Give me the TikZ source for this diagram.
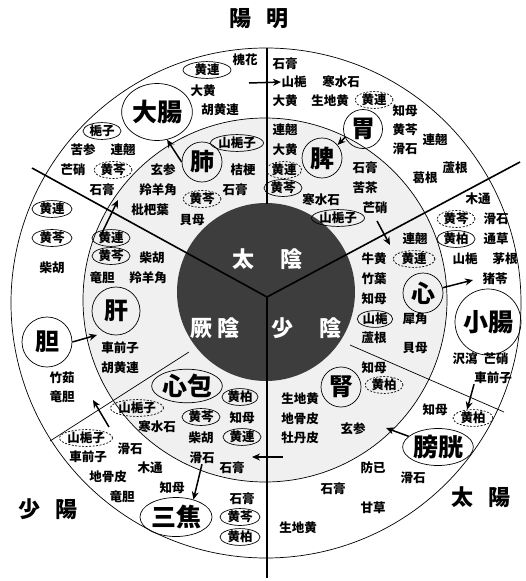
\documentclass[tikz,border=0pt]{standalone}
\usepackage{fontspec}
\newfontfamily\jp{Noto Sans CJK JP}
\usetikzlibrary{arrows.meta,shapes.geometric}
\begin{document}
\begin{tikzpicture}[x=1pt,y=-1pt,
 herb/.style={font=\jp\bfseries\fontsize{12.5}{13}\selectfont,inner sep=0pt},
 ov/.style={herb,draw,ellipse,line width=0.7pt,minimum width=38pt,minimum height=16pt},
 dov/.style={ov,dash pattern=on 2pt off 1.5pt},
 three/.style={minimum width=48pt},
 organ/.style={font=\jp\bfseries\fontsize{24}{24}\selectfont,draw,circle,inner sep=0pt,line width=0.7pt},
 organe/.style={font=\jp\bfseries\fontsize{25}{25}\selectfont,draw,ellipse,inner sep=0pt,line width=0.7pt},
 biglabel/.style={font=\jp\bfseries\fontsize{22}{22}\selectfont,inner sep=0pt},
 yin/.style={font=\jp\bfseries\fontsize{22}{22}\selectfont,inner sep=0pt,text=white},
 arr/.style={-{Stealth[length=8pt,width=7pt]},line width=1.5pt},
 radline/.style={line width=1.6pt},
 sepline/.style={line width=0.7pt}
]
\useasboundingbox (0,0) rectangle (525,581);
\fill[white] (0,0) rectangle (525,581);
% rings
\draw[sepline] (266,303) circle (255);
\draw[sepline,fill=black!6] (265,300) circle (182);
\fill[black!76] (266,292) circle (89);
% dividing lines
\coordinate (J) at (267,297);
\coordinate (ul) at (32,168);
\coordinate (ur) at (520,162);
\coordinate (bot) at (267,578);
\coordinate (top) at (267,48);
\coordinate (topd) at (267,204);
\coordinate (lls) at (189,352);
\coordinate (lle) at (50,441);
\coordinate (lrs) at (350,345);
\coordinate (lre) at (504,412);
\draw[radline] (ul) -- (J) -- (ur);
\draw[radline] (J) -- (bot);
\draw[line width=1.2pt] (top) -- (topd);
\draw[sepline] (lls) -- (lle);
\draw[sepline] (lrs) -- (lre);
% big labels
\node[biglabel] (yangming) at (259,19) {陽\hspace{15pt}明};
\node[biglabel] (shaoyang) at (48.5,509) {少\hspace{15pt}陽};
\node[biglabel] (taiyang) at (481,497) {太\hspace{15pt}陽};
% yin labels
\node[yin] (taiyin) at (267.5,259) {太\hspace{27pt}陰};
\node[yin] (jueyin) at (215,328) {厥\hspace{6pt}陰};
\node[yin] (shaoyin) at (306.5,328) {少\hspace{27pt}陰};
% organs
\node[organe,minimum width=70pt,minimum height=57pt] (dachang) at (157,112) {大腸};
\node[organ,minimum size=40pt] (fei) at (202,162) {肺};
\node[organ,minimum size=39pt] (wei) at (363,129) {胃};
\node[organ,minimum size=40pt] (pi) at (322,158) {脾};
\node[organ,minimum size=40pt] (xin) at (423,293) {心};
\node[organ,font=\jp\bfseries\fontsize{25}{25}\selectfont,minimum size=66pt] (xiaochang) at (488,322) {小腸};
\node[organ,minimum size=48pt] (gan) at (116,311) {肝};
\node[organ,minimum size=50pt] (dan) at (47,342) {胆};
\node[organe,minimum width=70pt,minimum height=33pt] (xinbao) at (187,386) {心包};
\node[organ,minimum size=40pt] (shen) at (341,387) {腎};
\node[organe,minimum width=70pt,minimum height=37pt] (pangguang) at (438,447) {膀胱};
\node[organe,minimum width=72pt,minimum height=39pt] (sanjiao) at (176,517) {三焦};
% herbs: 大腸 / 肺
\node[herb] (t1) at (245,60) {槐花};
\node[ov,three] (t2) at (207,70) {黄連};
\node[herb] (t3) at (203,91) {大黄};
\node[herb] (t4) at (220,110) {胡黄連};
\node[ov] (t5) at (102,131) {梔子};
\node[herb] (t6) at (83,150) {苦参};
\node[herb] (t7) at (123,150) {連翹};
\node[herb] (t8) at (73,170) {芒硝};
\node[dov] (t9) at (113,170) {黄芩};
\node[herb] (t10) at (102,190) {石膏};
\node[herb] (t11) at (163,170) {玄参};
\node[ov,three] (t12) at (237,143) {山梔子};
\node[herb] (t13) at (243,170) {桔梗};
\node[herb] (t14) at (158,190) {羚羊角};
\node[herb] (t15) at (235,190) {石膏};
\node[dov] (t16) at (202,199) {黄芩};
\node[herb] (t17) at (150,210) {枇杷葉};
\node[herb] (t18) at (192,220) {貝母};
% 胃 / 脾
\node[herb] (t19) at (285,64) {石膏};
\node[herb] (t20) at (294,82) {山梔};
\node[herb] (t21) at (341,82) {寒水石};
\node[herb] (t22) at (285,101) {大黄};
\node[herb] (t23) at (330,101) {生地黄};
\node[dov] (t24) at (374,100) {黄連};
\node[herb] (t25) at (405,111) {知母};
\node[herb] (t26) at (405,130) {黄芩};
\node[herb] (t27) at (405,149) {滑石};
\node[herb] (t28) at (435,140) {連翹};
\node[herb] (t29) at (285,130) {連翹};
\node[herb] (t30) at (285,150) {大黄};
\node[dov,minimum width=33pt] (t31) at (284,170) {黄連};
\node[ov] (t32) at (283,188) {黄芩};
\node[herb] (t33) at (321,200) {寒水石};
\node[ov,three] (t34) at (338,218) {山梔子};
\node[herb] (t35) at (365,168) {石膏};
\node[herb] (t36) at (365,188) {苦茶};
\node[herb] (t37) at (375,208) {芒硝};
\node[herb] (t38) at (425,178) {葛根};
\node[herb] (t39) at (455,168) {蘆根};
% 小腸 / 心
\node[herb] (t40) at (478,199) {木通};
\node[dov] (t41) at (456,219) {黄芩};
\node[herb] (t42) at (496,219) {滑石};
\node[ov] (t43) at (456,239) {黄柏};
\node[herb] (t44) at (496,239) {通草};
\node[herb] (t45) at (415,239) {連翹};
\node[dov,minimum width=42pt] (t46) at (414,259) {黄連};
\node[herb] (t47) at (465,259) {山梔};
\node[herb] (t48) at (505,259) {茅根};
\node[herb] (t49) at (495,279) {猪苓};
\node[herb] (t50) at (374,259) {牛黄};
\node[herb] (t51) at (374,279) {竹葉};
\node[herb] (t52) at (374,299) {知母};
\node[ov,minimum width=34pt] (t53) at (375,319) {山梔};
\node[herb] (t54) at (415,319) {犀角};
\node[herb] (t55) at (374,338) {蘆根};
\node[herb] (t56) at (415,348) {貝母};
\node[herb] (t57) at (465,359) {沢瀉};
\node[herb] (t58) at (496,359) {芒硝};
\node[herb] (cqzR) at (493,378) {車前子};
% 腎 / 膀胱
\node[herb] (t60) at (374,368) {知母};
\node[dov] (t61) at (384,385) {黄柏};
\node[herb] (t62) at (300,399) {生地黄};
\node[herb] (t63) at (435,410) {知母};
\node[dov,minimum width=40pt] (hbR) at (473,418) {黄柏};
\node[herb] (t65) at (300,419) {地骨皮};
\node[herb] (t66) at (300,438) {牡丹皮};
\node[herb] (t67) at (353,429) {玄参};
\node[herb] (t68) at (373,468) {防已};
\node[herb] (t69) at (413,478) {滑石};
\node[herb] (t70) at (333,489) {石膏};
\node[herb] (t71) at (373,508) {甘草};
\node[herb] (t72) at (298,528) {生地黄};
% 心包 / 三焦
\node[ov,minimum width=36pt] (t73) at (240,397) {黄柏};
\node[dov,three,minimum width=42pt,minimum height=14pt] (t74) at (137,408) {山梔子};
\node[ov] (t75) at (201,417) {黄芩};
\node[herb] (t76) at (242,418) {知母};
\node[herb] (t77) at (157,427) {寒水石};
\node[herb] (t78) at (201,438) {柴胡};
\node[ov] (t79) at (242,437) {黄連};
\node[herb] (hsS) at (202,458) {滑石};
\node[herb] (t81) at (232,468) {石膏};
\node[herb] (t82) at (150,468) {木通};
\node[herb] (t83) at (130,449) {滑石};
\node[dov,three] (t84) at (86,438) {山梔子};
\node[herb] (t85) at (88,457) {車前子};
\node[herb] (t86) at (108,477) {地骨皮};
\node[herb] (t87) at (122,497) {竜胆};
\node[herb] (t88) at (172,488) {知母};
\node[herb] (t89) at (242,499) {石膏};
\node[ov,minimum width=40pt] (t90) at (240,517) {黄芩};
\node[ov,minimum width=40pt] (t91) at (240,537) {黄柏};
% 胆 / 肝
\node[ov,minimum width=40pt] (t92) at (52,209) {黄連};
\node[ov,minimum width=40pt] (t93) at (52,238) {黄芩};
\node[herb] (t94) at (52,268) {柴胡};
\node[ov] (t95) at (111,238) {黄連};
\node[ov] (t96) at (111,256) {黄芩};
\node[herb] (t97) at (152,258) {柴胡};
\node[herb] (t98) at (102,278) {竜胆};
\node[herb] (t99) at (148,278) {羚羊角};
\node[herb] (t100) at (120,348) {車前子};
\node[herb] (t101) at (120,368) {胡黄連};
\node[herb] (t102) at (62,378) {竹茹};
\node[herb] (t103) at (62,397) {竜胆};
% arrows
\coordinate (a2s) at (100,237); \coordinate (a2e) at (118,200);
\coordinate (a4s) at (377,221); \coordinate (a4e) at (390,245);
\coordinate (a5e) at (473,280);
\coordinate (a7e) at (386,428);
\coordinate (a8s) at (283,457); \coordinate (a8e) at (252,457);
\coordinate (a10s) at (109,427); \coordinate (a10e) at (93,400);
\coordinate (a11e) at (97,335);
\coordinate (a12s) at (249,83); \coordinate (a12e) at (281,82);
\draw[arr] (fei.west) -- (dachang.-70);
\draw[arr] (a2s) -- (a2e);
\draw[arr] (wei.205) -- (pi.40);
\draw[arr] (a4s) -- (a4e);
\draw[arr] (xin.15) -- (a5e);
\draw[arr] (cqzR.south west) -- (hbR.125);
\draw[arr] (pangguang.160) -- (a7e);
\draw[arr] (a8s) -- (a8e);
\draw[arr] (hsS.south) -- (sanjiao.45);
\draw[arr] (a10s) -- (a10e);
\draw[arr] (dan.east) -- (a11e);
\draw[arr] (a12s) -- (a12e);
\end{tikzpicture}
\end{document}
